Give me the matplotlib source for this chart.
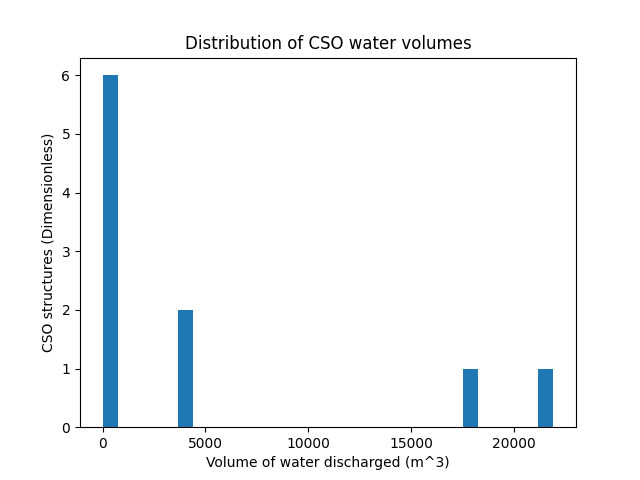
import matplotlib
matplotlib.use("Agg")
import matplotlib.pyplot as plt

# CSO discharge volumes (m^3)
volumes = [0, 60, 150, 240, 380, 520, 3750, 4050, 17800, 21900]
n_bins = 30

fig, ax = plt.subplots(figsize=(6.4, 4.8), dpi=100)
ax.hist(volumes, bins=n_bins, color="#1f77b4")
ax.set_title("Distribution of CSO water volumes")
ax.set_xlabel("Volume of water discharged (m^3)")
ax.set_ylabel("CSO structures (Dimensionless)")

fig.savefig("out.png")
